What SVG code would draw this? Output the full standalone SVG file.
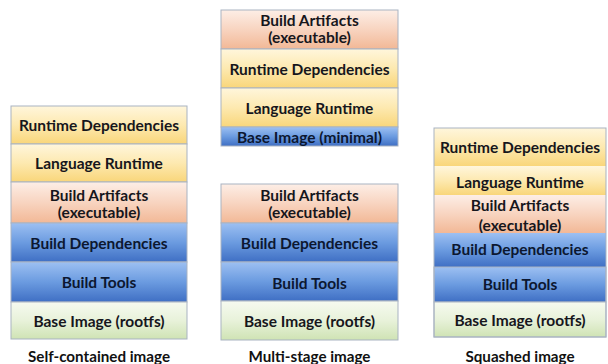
<svg xmlns="http://www.w3.org/2000/svg" width="608" height="364" viewBox="0 0 608 364">
<defs>
<linearGradient id="gY" x1="0" y1="0" x2="0" y2="1"><stop offset="0" stop-color="#fff6dc"/><stop offset="0.5" stop-color="#fde9b0"/><stop offset="1" stop-color="#f9d67a"/></linearGradient>
<linearGradient id="gO" x1="0" y1="0" x2="0" y2="1"><stop offset="0" stop-color="#fdeee6"/><stop offset="0.5" stop-color="#f8d4c0"/><stop offset="1" stop-color="#f2b896"/></linearGradient>
<linearGradient id="gB" x1="0" y1="0" x2="0" y2="1"><stop offset="0" stop-color="#9dc0f2"/><stop offset="0.5" stop-color="#6b9be0"/><stop offset="1" stop-color="#3f6fc4"/></linearGradient>
<linearGradient id="gG" x1="0" y1="0" x2="0" y2="1"><stop offset="0" stop-color="#f6faf0"/><stop offset="0.5" stop-color="#e8f2da"/><stop offset="1" stop-color="#cfe3b4"/></linearGradient>
</defs>
<style>
.y{fill:url(#gY)}
.o{fill:url(#gO)}
.b{fill:url(#gB)}
.g{fill:url(#gG)}
.s{stroke:#a9b3c2;stroke-width:1}
.t{font-family:Lato,"Open Sans","Liberation Sans",sans-serif;font-weight:bold;font-size:15.5px;fill:#16161c;text-anchor:middle;dominant-baseline:central}
.tb{fill:#0c1730}
.cap{font-family:Lato,"Open Sans","Liberation Sans",sans-serif;font-weight:bold;font-size:15.2px;fill:#111;text-anchor:middle;dominant-baseline:central}
</style>

<g id="self-contained">
<rect class="y s" x="11" y="106" width="176" height="38"/>
<text class="t" x="99" y="125">Runtime Dependencies</text>
<rect class="y s" x="11" y="144" width="176" height="38"/>
<text class="t" x="99" y="163">Language Runtime</text>
<rect class="o s" x="11" y="182" width="176" height="41"/>
<text class="t" x="99" y="195">Build Artifacts</text>
<text class="t" x="99" y="212">(executable)</text>
<rect class="b s" x="11" y="223" width="176" height="39"/>
<text class="t tb" x="99" y="243">Build Dependencies</text>
<rect class="b s" x="11" y="262" width="176" height="40"/>
<text class="t tb" x="99" y="282">Build Tools</text>
<rect class="g s" x="11" y="302" width="176" height="37"/>
<text class="t" x="99" y="321">Base Image (rootfs)</text>
<text class="cap" x="99" y="356">Self-contained image</text>
</g>

<g id="multi-stage-final">
<rect class="o s" x="221" y="10" width="177" height="39"/>
<text class="t" x="309.5" y="20">Build Artifacts</text>
<text class="t" x="309.5" y="37">(executable)</text>
<rect class="y s" x="221" y="49" width="177" height="39"/>
<text class="t" x="309.5" y="69">Runtime Dependencies</text>
<rect class="y s" x="221" y="88" width="177" height="39"/>
<text class="t" x="309.5" y="108">Language Runtime</text>
<rect class="b s" x="221" y="127" width="177" height="19"/>
<text class="t tb" x="309.5" y="137">Base Image (minimal)</text>
</g>

<g id="multi-stage-build">
<rect class="o s" x="221" y="184" width="177" height="39"/>
<text class="t" x="309.5" y="195">Build Artifacts</text>
<text class="t" x="309.5" y="212">(executable)</text>
<rect class="b s" x="221" y="223" width="177" height="39"/>
<text class="t tb" x="309.5" y="243">Build Dependencies</text>
<rect class="b s" x="221" y="262" width="177" height="39"/>
<text class="t tb" x="309.5" y="283">Build Tools</text>
<rect class="g s" x="221" y="301" width="177" height="39"/>
<text class="t" x="309.5" y="321">Base Image (rootfs)</text>
<text class="cap" x="309.5" y="356">Multi-stage image</text>
</g>

<g id="squashed">
<rect class="y" x="434" y="128" width="172" height="38"/>
<text class="t" x="520" y="147">Runtime Dependencies</text>
<rect class="y" x="434" y="166" width="172" height="29"/>
<text class="t" x="520" y="182">Language Runtime</text>
<rect class="o" x="434" y="195" width="172" height="38"/>
<text class="t" x="520" y="205">Build Artifacts</text>
<text class="t" x="520" y="225">(executable)</text>
<rect class="b" x="434" y="233" width="172" height="34"/>
<text class="t tb" x="520" y="249">Build Dependencies</text>
<rect class="b s" x="434" y="267" width="172" height="35"/>
<text class="t tb" x="520" y="284">Build Tools</text>
<rect class="g s" x="434" y="302" width="172" height="35"/>
<text class="t" x="520" y="320">Base Image (rootfs)</text>
<rect x="434" y="128" width="172" height="209" fill="none" class="s"/>
<text class="cap" x="520" y="356">Squashed image</text>
</g>
</svg>
